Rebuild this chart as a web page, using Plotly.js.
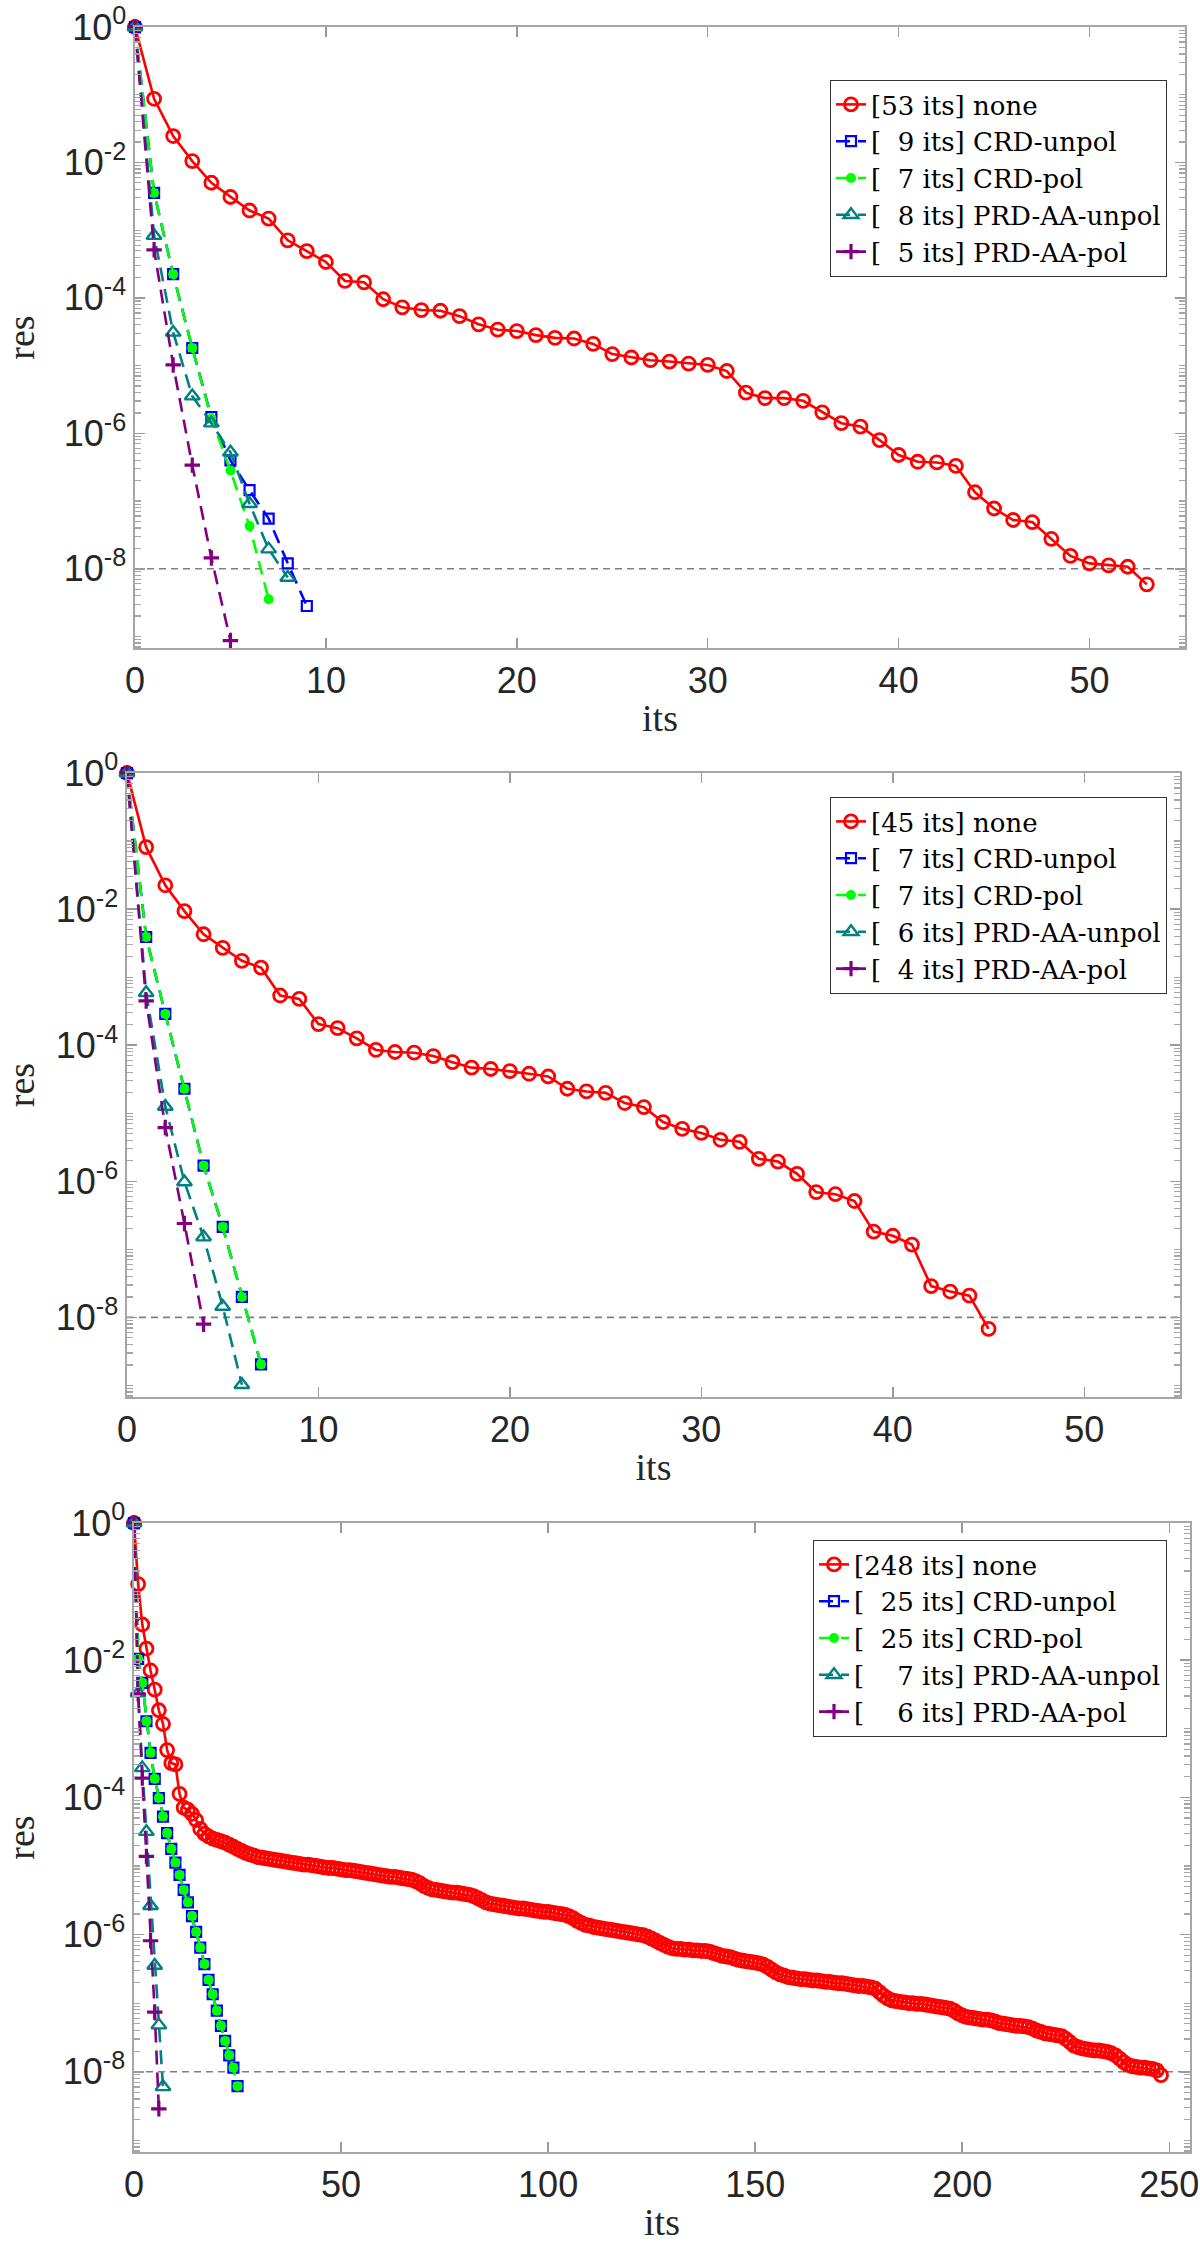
<!DOCTYPE html>
<html>
<head>
<meta charset="utf-8">
<script src="https://cdn.plot.ly/plotly-3.0.1.min.js"></script>
<style>
  html, body { margin: 0; padding: 0; background: #ffffff; }
  #chart { width: 1200px; height: 2254px; }
</style>
</head>
<body>
<div id="chart"></div>
<script>
// ---- Data: residuals, stored as log10(res) ----
// Panel 1
const p1_none      = [0, -1.06, -1.61, -1.98, -2.30, -2.51, -2.71, -2.83, -3.15, -3.31,
                      -3.47, -3.75, -3.77, -4.02, -4.14, -4.18, -4.19, -4.27, -4.39, -4.47,
                      -4.49, -4.55, -4.59, -4.60, -4.68, -4.83, -4.88, -4.92, -4.94, -4.97,
                      -4.99, -5.08, -5.40, -5.48, -5.48, -5.52, -5.69, -5.85, -5.90, -6.10,
                      -6.32, -6.42, -6.43, -6.48, -6.87, -7.11, -7.28, -7.31, -7.56, -7.81,
                      -7.92, -7.95, -7.97, -8.23];
const p1_crdUnpol  = [0, -2.45, -3.65, -4.74, -5.76, -6.40, -6.84, -7.26, -7.92, -8.55];
const p1_crdPol    = [0, -2.45, -3.65, -4.74, -5.78, -6.55, -7.37, -8.45];
const p1_prdUnpol  = [0, -3.08, -4.51, -5.45, -5.85, -6.28, -7.04, -7.71, -8.13];
const p1_prdPol    = [0, -3.29, -4.99, -6.47, -7.84, -9.06];

// Panel 2
const p2_none      = [0, -1.09, -1.65, -2.03, -2.37, -2.57, -2.76, -2.86, -3.27, -3.32,
                      -3.69, -3.75, -3.90, -4.07, -4.10, -4.11, -4.16, -4.25, -4.33, -4.35,
                      -4.38, -4.42, -4.46, -4.64, -4.68, -4.70, -4.85, -4.91, -5.13, -5.23,
                      -5.29, -5.39, -5.42, -5.67, -5.71, -5.89, -6.16, -6.19, -6.29, -6.74,
                      -6.80, -6.93, -7.54, -7.62, -7.68, -8.17];
const p2_crdUnpol  = [0, -2.41, -3.54, -4.64, -5.77, -6.67, -7.70, -8.69];
const p2_crdPol    = [0, -2.41, -3.54, -4.64, -5.77, -6.67, -7.70, -8.69];
const p2_prdUnpol  = [0, -3.23, -4.90, -6.01, -6.82, -7.84, -8.99];
const p2_prdPol    = [0, -3.35, -5.21, -6.62, -8.10];

// Panel 3
const p3_none      = [0, -0.89, -1.48, -1.83, -2.15, -2.43, -2.73, -2.93, -3.31, -3.50,
                      -3.52, -3.95, -4.15, -4.18, -4.24, -4.33, -4.46,
                      -4.53, -4.57, -4.60, -4.62, -4.64, -4.66, -4.69, -4.72, -4.75, -4.78, -4.81, -4.83, -4.85,
                      -4.87, -4.88, -4.89, -4.90, -4.91, -4.92, -4.93, -4.94, -4.95, -4.96,
                      -4.97, -4.98, -4.98, -4.99, -5.00, -5.01, -5.02, -5.03, -5.03, -5.04,
                      -5.05, -5.06, -5.06, -5.07, -5.08, -5.09, -5.10, -5.11, -5.12, -5.13,
                      -5.14, -5.15, -5.16, -5.16, -5.17, -5.18, -5.19, -5.20, -5.22, -5.25,
                      -5.29, -5.32, -5.34, -5.35, -5.36, -5.37, -5.38, -5.39, -5.39, -5.40,
                      -5.41, -5.42, -5.44, -5.47, -5.50, -5.53, -5.55, -5.56, -5.57, -5.58,
                      -5.59, -5.60, -5.61, -5.62, -5.62, -5.63, -5.64, -5.65, -5.66, -5.67,
                      -5.67, -5.68, -5.69, -5.70, -5.71, -5.73, -5.76, -5.80, -5.83, -5.86,
                      -5.87, -5.89, -5.90, -5.91, -5.92, -5.93, -5.94, -5.95, -5.96, -5.97,
                      -5.98, -5.99, -6.00, -6.01, -6.03, -6.06, -6.09, -6.12, -6.15, -6.18,
                      -6.20, -6.21, -6.21, -6.22, -6.22, -6.23, -6.23, -6.24, -6.24, -6.25,
                      -6.27, -6.29, -6.31, -6.32, -6.33, -6.35, -6.37, -6.38, -6.39, -6.40,
                      -6.41, -6.42, -6.44, -6.47, -6.51, -6.55, -6.58, -6.60, -6.62, -6.63,
                      -6.64, -6.65, -6.65, -6.66, -6.67, -6.67, -6.68, -6.69, -6.69, -6.70,
                      -6.71, -6.71, -6.72, -6.73, -6.74, -6.75, -6.75, -6.76, -6.77, -6.79,
                      -6.84, -6.89, -6.93, -6.96, -6.97, -6.98, -6.99, -7.00, -7.00, -7.01,
                      -7.01, -7.02, -7.03, -7.04, -7.05, -7.06, -7.07, -7.08, -7.11, -7.15,
                      -7.18, -7.20, -7.21, -7.22, -7.23, -7.24, -7.24, -7.25, -7.27, -7.29,
                      -7.30, -7.31, -7.32, -7.33, -7.33, -7.34, -7.35, -7.37, -7.40, -7.42,
                      -7.44, -7.45, -7.46, -7.47, -7.48, -7.52, -7.57, -7.62, -7.64, -7.66,
                      -7.67, -7.68, -7.69, -7.69, -7.70, -7.71, -7.73, -7.76, -7.81, -7.86,
                      -7.90, -7.92, -7.93, -7.94, -7.94, -7.95, -7.96, -7.98, -8.05];
const p3_crdUnpol  = [0, -1.98, -2.33, -2.89, -3.35, -3.73, -4.01, -4.28, -4.52, -4.75,
                      -4.95, -5.13, -5.35, -5.53, -5.73, -5.96, -6.19, -6.43, -6.66, -6.87,
                      -7.11, -7.33, -7.55, -7.76, -7.94, -8.21];
const p3_crdPol    = [0, -1.98, -2.33, -2.89, -3.35, -3.73, -4.01, -4.28, -4.52, -4.75,
                      -4.95, -5.13, -5.35, -5.53, -5.73, -5.96, -6.19, -6.43, -6.66, -6.87,
                      -7.11, -7.33, -7.55, -7.76, -7.94, -8.21];
const p3_prdUnpol  = [0, -2.48, -3.57, -4.50, -5.58, -6.45, -7.32, -8.22];
const p3_prdPol    = [0, -2.49, -3.72, -4.86, -6.09, -7.13, -8.54];

const tolerance = 1e-8;

// Legend labels
const names1 = ['[53 its] none', '[\u00a0\u00a09 its] CRD-unpol', '[\u00a0\u00a07 its] CRD-pol', '[\u00a0\u00a08 its] PRD-AA-unpol', '[\u00a0\u00a05 its] PRD-AA-pol'];
const names2 = ['[45 its] none', '[\u00a0\u00a07 its] CRD-unpol', '[\u00a0\u00a07 its] CRD-pol', '[\u00a0\u00a06 its] PRD-AA-unpol', '[\u00a0\u00a04 its] PRD-AA-pol'];
const names3 = ['[248 its] none', '[\u00a0\u00a025 its] CRD-unpol', '[\u00a0\u00a025 its] CRD-pol', '[\u00a0\u00a0\u00a0\u00a07 its] PRD-AA-unpol', '[\u00a0\u00a0\u00a0\u00a06 its] PRD-AA-pol'];

// Tick labels
const yTickVals = [1e0, 1e-2, 1e-4, 1e-6, 1e-8];
const yTickText = ['10<sup>0</sup>', '10<sup>-2</sup>', '10<sup>-4</sup>', '10<sup>-6</sup>', '10<sup>-8</sup>'];
const xRange12 = [0, 55];
const xRange3 = [0, 255];

// ---- Styling ----
const SANS = 'Liberation Sans, Arial, sans-serif';
const SERIF = 'Liberation Serif, Times New Roman, serif';
const LEGSERIF = 'DejaVu Serif, Liberation Serif, serif';
const TXT = '#262626';

const styles = [
  { color: '#ff0000', dash: 'solid',     symbol: 'circle-open',      size: 13, mlw: 2.8 },
  { color: '#0000ff', dash: '14px,8px',  symbol: 'square-open',      size: 10, mlw: 2.2 },
  { color: '#00ff00', dash: '14px,8px',  symbol: 'circle',           size: 10, mlw: 0 },
  { color: '#008080', dash: '14px,8px',  symbol: 'triangle-up-open', size: 13, mlw: 2.4 },
  { color: '#800080', dash: '14px,8px',  symbol: 'cross-thin-open',  size: 11, mlw: 3.2 }
];

const yMinorVals = [];
for (let e = 0; e >= -10; e--) {
  for (let k = 1; k <= 9; k++) {
    if (k === 1 && e % 2 === 0) continue;
    yMinorVals.push(k * Math.pow(10, e));
  }
}

function toRes(arr) { return arr.map(e => Math.pow(10, e)); }
function idx(arr) { return arr.map((_, i) => i); }

function panelTraces(series, names, xa, ya, lg, xr) {
  const traces = [{
    x: xr, y: [tolerance, tolerance], xaxis: xa, yaxis: ya, mode: 'lines',
    line: { color: '#7f7f7f', width: 1.6, dash: '7px,5px' },
    showlegend: false, hoverinfo: 'skip', legend: lg
  }];
  series.forEach((s, i) => {
    const st = styles[i];
    traces.push({
      x: idx(s), y: toRes(s), xaxis: xa, yaxis: ya, legend: lg,
      name: names[i], mode: 'lines+markers', cliponaxis: false,
      line: { color: st.color, width: 2.6, dash: st.dash },
      marker: { symbol: st.symbol, size: st.size, color: st.color,
                line: { color: st.color, width: st.mlw } }
    });
  });
  return traces;
}

const data = [].concat(
  panelTraces([p1_none, p1_crdUnpol, p1_crdPol, p1_prdUnpol, p1_prdPol], names1, 'x', 'y', 'legend', xRange12),
  panelTraces([p2_none, p2_crdUnpol, p2_crdPol, p2_prdUnpol, p2_prdPol], names2, 'x2', 'y2', 'legend2', xRange12),
  panelTraces([p3_none, p3_crdUnpol, p3_crdPol, p3_prdUnpol, p3_prdPol], names3, 'x3', 'y3', 'legend3', xRange3)
);

const H = 2254, W = 1200;
function xAxis(left, right, anchor, range, dtick) {
  return {
    domain: [left / W, right / W], anchor: anchor, range: range,
    tickmode: 'linear', tick0: 0, dtick: dtick,
    ticks: 'inside', ticklen: 10, tickwidth: 1.5, tickcolor: '#9a9a9a',
    showline: true, linecolor: '#a6a6a6', linewidth: 1.6, mirror: 'ticks',
    showgrid: false, zeroline: false,
    tickfont: { family: SANS, size: 36, color: TXT },
    title: { text: 'its', font: { family: SERIF, size: 38, color: TXT }, standoff: 4 },
    automargin: false
  };
}
function yAxis(top, bottom, anchor) {
  return {
    type: 'log', domain: [1 - bottom / H, 1 - top / H], anchor: anchor, range: [-9.17, 0],
    tickmode: 'array', tickvals: yTickVals, ticktext: yTickText,
    ticks: 'inside', ticklen: 10, tickwidth: 1.5, tickcolor: '#9a9a9a',
    minor: { tickmode: 'array', tickvals: yMinorVals, ticks: 'inside', ticklen: 6,
             tickwidth: 1.2, tickcolor: '#a6a6a6', showgrid: false },
    showline: true, linecolor: '#a6a6a6', linewidth: 1.6, mirror: 'ticks',
    showgrid: false, zeroline: false,
    tickfont: { family: SANS, size: 36, color: TXT },
    title: { text: 'res', font: { family: SERIF, size: 38, color: TXT }, standoff: 18 },
    automargin: false
  };
}
function legendDef(top) {
  return {
    x: 1167 / W, xanchor: 'right', y: 1 - top / H, yanchor: 'top',
    bgcolor: '#ffffff', bordercolor: '#333333', borderwidth: 1,
    font: { family: LEGSERIF, size: 26, color: '#000000' },
    itemwidth: 30, tracegroupgap: 0
  };
}

const layout = {
  width: W, height: H, autosize: false,
  margin: { l: 0, r: 0, t: 0, b: 0, pad: 0 },
  paper_bgcolor: '#ffffff', plot_bgcolor: '#ffffff',
  showlegend: true,
  xaxis:  xAxis(135, 1185, 'y', xRange12, 10),
  yaxis:  yAxis(27, 648, 'x'),
  xaxis2: xAxis(127, 1180, 'y2', xRange12, 10),
  yaxis2: yAxis(773, 1397, 'x2'),
  xaxis3: xAxis(134, 1190, 'y3', xRange3, 50),
  yaxis3: yAxis(1523, 2152, 'x3'),
  legend:  legendDef(80),
  legend2: legendDef(797),
  legend3: legendDef(1540)
};

Plotly.newPlot('chart', data, layout, { staticPlot: true, displayModeBar: false });
</script>
</body>
</html>
